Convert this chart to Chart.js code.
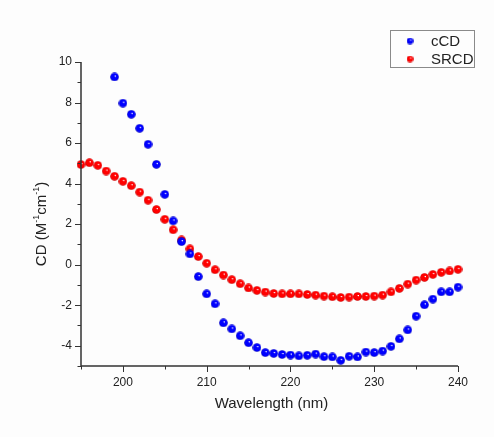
<!DOCTYPE html>
<html>
<head>
<meta charset="utf-8">
<script src="https://cdn.jsdelivr.net/npm/chart.js@4/dist/chart.umd.min.js"></script>
<style>
  html, body { margin: 0; padding: 0; background: #fdfdfd; }
  #wrap { width: 494px; height: 437px; }
</style>
</head>
<body>
<div id="wrap"><canvas id="cdChart" width="494" height="437"></canvas></div>
<script>
// wavelength (nm) for each measured point
const ccdWavelengths = [
  199, 200, 201, 202, 203, 204, 205, 206, 207, 208,
  209, 210, 211, 212, 213, 214, 215, 216, 217, 218,
  219, 220, 221, 222, 223, 224, 225, 226, 227, 228,
  229, 230, 231, 232, 233, 234, 235, 236, 237, 238,
  239, 240
];
const ccdValues = [
  9.26, 7.97, 7.42, 6.73, 5.94, 4.95, 3.47, 2.16, 1.14, 0.53,
  -0.59, -1.44, -1.93, -2.87, -3.17, -3.51, -3.85, -4.09, -4.34, -4.38,
  -4.43, -4.46, -4.50, -4.47, -4.41, -4.54, -4.55, -4.72, -4.52, -4.55,
  -4.31, -4.34, -4.26, -4.03, -3.66, -3.22, -2.54, -1.98, -1.70, -1.34,
  -1.34, -1.11
];

const srcdWavelengths = [
  195, 196, 197, 198, 199, 200, 201, 202, 203, 204,
  205, 206, 207, 208, 209, 210, 211, 212, 213, 214,
  215, 216, 217, 218, 219, 220, 221, 222, 223, 224,
  225, 226, 227, 228, 229, 230, 231, 232, 233, 234,
  235, 236, 237, 238, 239, 240
];
const srcdValues = [
  4.94, 5.03, 4.90, 4.62, 4.36, 4.11, 3.90, 3.58, 3.18, 2.72,
  2.24, 1.72, 1.22, 0.78, 0.40, 0.07, -0.25, -0.51, -0.74, -0.94,
  -1.15, -1.27, -1.35, -1.42, -1.44, -1.44, -1.44, -1.47, -1.50, -1.55,
  -1.58, -1.62, -1.60, -1.57, -1.57, -1.55, -1.50, -1.34, -1.17, -0.96,
  -0.76, -0.63, -0.48, -0.38, -0.31, -0.23
];

const seriesNames = ["cCD", "SRCD"];
const xTickLabels = [200, 210, 220, 230, 240];
const yTickLabels = [-4, -2, 0, 2, 4, 6, 8, 10];

const FONT = "Liberation Sans, Arial, sans-serif";

// little shaded ball used as the marker
function makeBall(color, dark, size) {
  const c = document.createElement("canvas");
  c.width = size; c.height = size;
  const g = c.getContext("2d");
  const r = size / 2;
  const grad = g.createRadialGradient(r * 1.2, r * 0.75, 0.2, r, r, r);
  grad.addColorStop(0, "#ffffff");
  grad.addColorStop(0.22, color);
  grad.addColorStop(0.75, color);
  grad.addColorStop(1, dark);
  g.fillStyle = grad;
  g.beginPath();
  g.arc(r, r, r - 0.2, 0, Math.PI * 2);
  g.fill();
  return c;
}

const blueBall = makeBall("#0000ff", "#0000b0", 9);
const redBall = makeBall("#ff0000", "#c00000", 9);
const blueSmall = makeBall("#0000ff", "#0000b0", 7);
const redSmall = makeBall("#ff0000", "#c00000", 7);

function toPoints(xs, ys) {
  return xs.map((x, i) => ({ x: x, y: ys[i] }));
}

// axes in Origin style: ticks outside, minor ticks between
const originAxes = {
  id: "originAxes",
  afterDraw(chart) {
    const ctx = chart.ctx;
    const xs = chart.scales.x, ys = chart.scales.y;
    const a = chart.chartArea;
    ctx.save();
    ctx.strokeStyle = "#333";
    ctx.lineWidth = 1.5;
    ctx.beginPath();
    ctx.moveTo(a.left, a.top);
    ctx.lineTo(a.left, a.bottom);
    ctx.lineTo(a.right, a.bottom);
    ctx.stroke();

    ctx.lineWidth = 1;
    for (let v = 195; v <= 240; v += 5) {
      const px = Math.round(xs.getPixelForValue(v)) + 0.5;
      const len = v % 10 === 0 ? 6 : 3.5;
      ctx.beginPath();
      ctx.moveTo(px, a.bottom);
      ctx.lineTo(px, a.bottom + len);
      ctx.stroke();
    }
    for (let v = -5; v <= 10; v += 1) {
      const py = Math.round(ys.getPixelForValue(v)) + 0.5;
      const len = v % 2 === 0 ? 6 : 3.5;
      ctx.beginPath();
      ctx.moveTo(a.left, py);
      ctx.lineTo(a.left - len, py);
      ctx.stroke();
    }

    ctx.fillStyle = "#222";
    ctx.font = "12px " + FONT;
    ctx.textAlign = "center";
    ctx.textBaseline = "top";
    xTickLabels.forEach(v => {
      ctx.fillText(String(v), xs.getPixelForValue(v), a.bottom + 11);
    });
    ctx.textAlign = "right";
    ctx.textBaseline = "middle";
    yTickLabels.forEach(v => {
      ctx.fillText(String(v), a.left - 9, ys.getPixelForValue(v));
    });

    // axis titles
    ctx.font = "15px " + FONT;
    ctx.textAlign = "center";
    ctx.textBaseline = "middle";
    ctx.fillText("Wavelength (nm)", (a.left + a.right) / 2 + 2, 404);

    ctx.save();
    ctx.translate(42, 224);
    ctx.rotate(-Math.PI / 2);
    const parts = [
      ["CD (M", false], ["-1", true], ["cm", false], ["-1", true], [")", false]
    ];
    const big = "15px " + FONT, small = "9px " + FONT;
    let total = 0;
    parts.forEach(p => { ctx.font = p[1] ? small : big; total += ctx.measureText(p[0]).width; });
    let cx = -total / 2;
    ctx.textAlign = "left";
    parts.forEach(p => {
      ctx.font = p[1] ? small : big;
      ctx.fillText(p[0], cx, p[1] ? -5 : 0);
      cx += ctx.measureText(p[0]).width;
    });
    ctx.restore();

    // legend box
    ctx.strokeStyle = "#8a8a8a";
    ctx.lineWidth = 1;
    ctx.fillStyle = "#fdfdfd";
    ctx.fillRect(390.5, 30.5, 84, 37);
    ctx.strokeRect(390.5, 30.5, 84, 37);
    ctx.drawImage(blueSmall, 406.5, 37.5);
    ctx.drawImage(redSmall, 406.5, 55.5);
    ctx.fillStyle = "#222";
    ctx.font = "15px " + FONT;
    ctx.textAlign = "left";
    ctx.fillText(seriesNames[0], 431, 41.5);
    ctx.fillText(seriesNames[1], 431, 59.5);
    ctx.restore();
  }
};

new Chart(document.getElementById("cdChart"), {
  type: "scatter",
  data: {
    datasets: [
      {
        label: seriesNames[0],
        data: toPoints(ccdWavelengths, ccdValues),
        pointStyle: blueBall,
        pointRadius: 4.5,
        clip: false
      },
      {
        label: seriesNames[1],
        data: toPoints(srcdWavelengths, srcdValues),
        pointStyle: redBall,
        pointRadius: 4.5,
        clip: false
      }
    ]
  },
  plugins: [originAxes],
  options: {
    responsive: false,
    animation: false,
    layout: { padding: { left: 81, right: 36, top: 62, bottom: 71 } },
    plugins: {
      legend: { display: false },
      tooltip: { enabled: false }
    },
    scales: {
      x: {
        type: "linear",
        min: 195,
        max: 240,
        grid: { display: false },
        border: { display: false },
        ticks: { display: false },
        afterFit(s) { s.height = 0; }
      },
      y: {
        type: "linear",
        min: -5,
        max: 10,
        grid: { display: false },
        border: { display: false },
        ticks: { display: false },
        afterFit(s) { s.width = 0; }
      }
    }
  }
});
</script>
</body>
</html>
